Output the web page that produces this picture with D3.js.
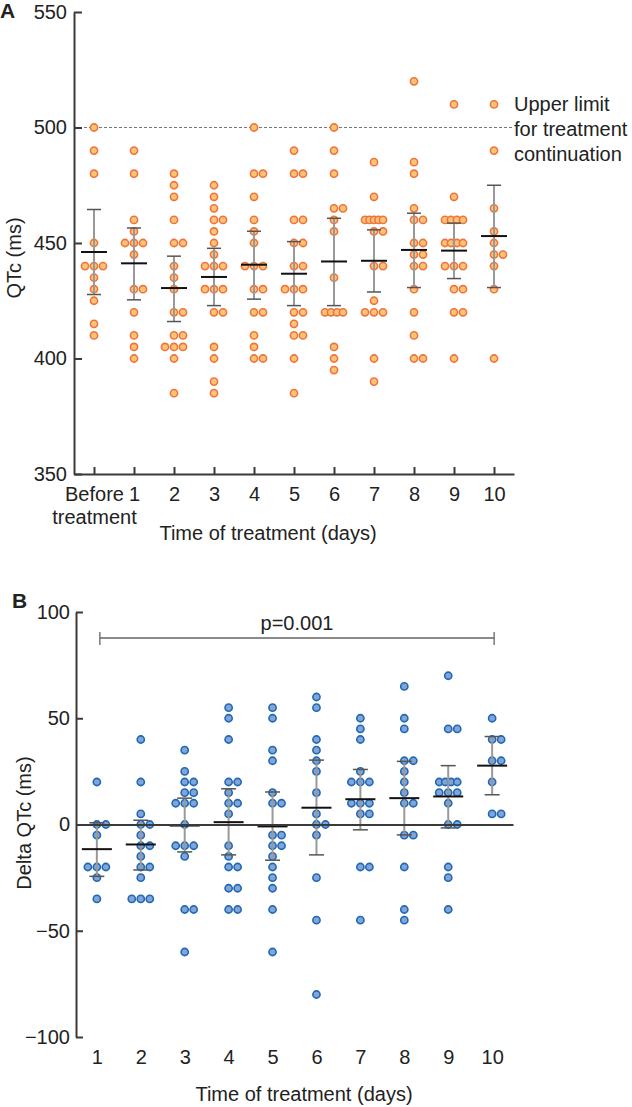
<!DOCTYPE html>
<html lang="en">
<head>
<meta charset="UTF-8">
<title>QTc during treatment</title>
<script src="https://d3js.org/d3.v7.min.js"></script>
<style>
    body { margin: 0; background: #fff; }
    text { font-family: "Liberation Sans", Arial, sans-serif; fill: #222; }
</style>
</head>
<body>
<script>
    // panel A - QTc (ms), dots per time point
    var daysA = ['Before', '1', '2', '3', '4', '5', '6', '7', '8', '9', '10'];
    var qtcDots = [
        [500, 490, 480, 450, 440, 440, 440, 435, 430, 425, 415, 410],
        [490, 480, 460, 455, 450, 450, 450, 445, 430, 430, 420, 410, 405, 400],
        [480, 475, 470, 460, 450, 450, 440, 435, 430, 420, 420, 410, 410, 405, 405, 405, 400, 385],
        [475, 470, 465, 460, 460, 455, 450, 445, 440, 440, 440, 430, 430, 430, 420, 420, 405, 400, 390, 385],
        [500, 480, 480, 470, 460, 455, 450, 440, 440, 440, 430, 430, 420, 420, 410, 405, 400, 400],
        [490, 480, 480, 460, 460, 450, 450, 440, 440, 430, 430, 430, 420, 420, 415, 410, 410, 400, 385],
        [500, 490, 480, 465, 465, 460, 455, 435, 420, 420, 420, 420, 405, 400, 395],
        [485, 470, 460, 460, 460, 460, 460, 455, 455, 440, 440, 425, 420, 420, 420, 400, 390],
        [520, 485, 480, 465, 460, 460, 450, 450, 445, 445, 440, 440, 430, 420, 410, 400, 400],
        [510, 470, 460, 460, 460, 460, 450, 450, 450, 450, 440, 440, 440, 430, 430, 420, 420, 400],
        [510, 490, 465, 455, 450, 445, 445, 440, 430, 400]
    ];
    var qtcMean = [446.1, 441.2, 430.5, 435.3, 440.6, 436.7, 442.0, 442.3, 447.0, 446.7, 453.0];
    var qtcHigh = [464.5, 456.5, 444.3, 447.7, 455.1, 450.6, 460.7, 455.7, 462.9, 458.6, 475.0];
    var qtcLow = [427.7, 425.4, 416.0, 422.9, 425.7, 422.9, 422.9, 428.8, 430.7, 434.6, 430.7];
    var qtcTicks = [350, 400, 450, 500, 550];
    var qtcLimit = 500;
    var limitLabel = ['Upper limit', 'for treatment', 'continuation'];

    // panel B - delta QTc (ms)
    var daysB = ['1', '2', '3', '4', '5', '6', '7', '8', '9', '10'];
    var deltaDots = [
        [20, 0, 0, -5, -20, -20, -20, -25, -35],
        [40, 20, 5, 0, 0, -5, -10, -10, -15, -20, -20, -25, -35, -35, -35],
        [35, 25, 20, 20, 15, 15, 10, 10, 10, 0, -10, -10, -10, -15, -40, -40, -60],
        [55, 50, 40, 20, 20, 15, 10, 10, 5, -10, -15, -20, -20, -30, -30, -40, -40],
        [55, 50, 35, 30, 15, 10, 10, -5, -5, -10, -10, -15, -20, -25, -30, -40, -60],
        [60, 55, 40, 35, 30, 25, 15, 5, 0, 0, -5, -25, -45, -80],
        [50, 45, 40, 25, 20, 20, 20, 10, 10, 10, 5, 5, -20, -20, -45],
        [65, 50, 45, 30, 30, 25, 20, 15, 10, 10, -5, -5, -20, -40, -45],
        [70, 45, 45, 20, 20, 20, 20, 15, 15, 15, 10, 0, 0, -20, -25, -40],
        [50, 40, 40, 30, 30, 20, 5, 5]
    ];
    var deltaMean = [-11.6, -9.4, -0.5, 1.1, -0.9, 7.9, 11.9, 12.4, 13.2, 27.7];
    var deltaHigh = [0.8, 2.0, 12.4, 16.8, 15.3, 30.3, 25.9, 29.7, 27.7, 41.4];
    var deltaLow = [-24.4, -21.4, -12.9, -14.3, -16.8, -14.3, -2.5, -4.9, -1.6, 14.0];
    var deltaTicks = [-100, -50, 0, 50, 100];
    var pText = 'p=0.001';
    var pFrom = '1', pTo = '10';

    var fontSize = 20;
    var svg = d3.select('body').append('svg')
        .attr('width', 632)
        .attr('height', 1107);

    // spread equal values sideways like a column scatter
    function spread(values) {
        var counts = {}, seen = {};
        values.forEach(function (v) { counts[v] = (counts[v] || 0) + 1; });
        return values.map(function (v) {
            var n = counts[v];
            var k = seen[v] || 0;
            seen[v] = k + 1;
            var dx;
            if (n == 1) dx = 0;
            else if (n == 2) dx = k * 9;
            else if (n == 3) dx = (k - 1) * 9;
            else dx = -9 + k * 18 / (n - 1);
            return {v: v, dx: dx};
        });
    }

    function styleAxis(g) {
        g.attr('font-size', fontSize).attr('font-family', '"Liberation Sans", Arial, sans-serif');
        g.selectAll('.domain').attr('stroke', '#3a3a3a').attr('stroke-width', 2);
        g.selectAll('.tick line').attr('stroke', '#3a3a3a').attr('stroke-width', 2);
        g.selectAll('.tick text').attr('fill', '#222');
    }

    function drawColumns(g, x, y, cats, dots, mean, hi, lo, fill, stroke, barW, capW) {
        cats.forEach(function (c, i) {
            var cx = x(c);
            g.append('g').selectAll('circle')
                .data(spread(dots[i]))
                .enter()
                .append('circle')
                .attr('cx', function (d) { return cx + d.dx; })
                .attr('cy', function (d) { return y(d.v); })
                .attr('r', 3.6)
                .attr('fill', fill)
                .attr('stroke', stroke)
                .attr('stroke-width', 1.6);
            g.append('line')
                .attr('x1', cx).attr('x2', cx)
                .attr('y1', y(hi[i])).attr('y2', y(lo[i]))
                .attr('stroke', '#999').attr('stroke-width', 2);
            [hi[i], lo[i]].forEach(function (v) {
                g.append('line')
                    .attr('x1', cx - capW / 2).attr('x2', cx + capW / 2)
                    .attr('y1', y(v)).attr('y2', y(v))
                    .attr('stroke', '#555').attr('stroke-width', 1.5);
            });
            g.append('line')
                .attr('x1', cx - barW / 2).attr('x2', cx + barW / 2)
                .attr('y1', y(mean[i])).attr('y2', y(mean[i]))
                .attr('stroke', '#111').attr('stroke-width', 2);
        });
    }

    // ---------- panel A ----------
    var xA = d3.scalePoint().domain(daysA).range([74, 514]).padding(0.5);
    var yA = d3.scaleLinear().domain([350, 550]).range([474, 12]);
    var gA = svg.append('g');

    gA.append('line')
        .attr('x1', xA.range()[0]).attr('x2', 512)
        .attr('y1', yA(qtcLimit)).attr('y2', yA(qtcLimit))
        .attr('stroke', '#777').attr('stroke-width', 1)
        .attr('stroke-dasharray', '3,2');

    drawColumns(gA, xA, yA, daysA, qtcDots, qtcMean, qtcHigh, qtcLow, '#fcc479', '#f0743a', 26, 14);

    var axAy = gA.append('g')
        .attr('transform', 'translate(' + xA.range()[0] + ',0)')
        .call(d3.axisLeft(yA).tickValues(qtcTicks).tickSize(-8).tickSizeOuter(0).tickPadding(7));
    styleAxis(axAy);

    var axAx = gA.append('g')
        .attr('transform', 'translate(0,' + yA(350) + ')')
        .call(d3.axisBottom(xA).tickSize(-7).tickSizeOuter(0).tickPadding(13));
    styleAxis(axAx);
    axAx.selectAll('.tick text').filter(function (d) { return d == 'Before'; })
        .text(null)
        .call(function (t) {
            t.append('tspan').attr('x', 0).text('Before');
            t.append('tspan').attr('x', 0).attr('dy', '1.15em').text('treatment');
        });

    limitLabel.forEach(function (s, i) {
        gA.append('text')
            .attr('x', 514)
            .attr('y', 111 + i * 25)
            .attr('font-size', fontSize)
            .text(s);
    });

    gA.append('text')
        .attr('x', 268).attr('y', 540)
        .attr('text-anchor', 'middle')
        .attr('font-size', fontSize)
        .text('Time of treatment (days)');
    gA.append('text')
        .attr('transform', 'translate(21,' + 258 + ') rotate(-90)')
        .attr('text-anchor', 'middle')
        .attr('font-size', fontSize)
        .text('QTc (ms)');
    gA.append('text')
        .attr('x', 0).attr('y', 18)
        .attr('font-size', 21).attr('font-weight', 'bold')
        .text('A');

    // ---------- panel B ----------
    var xB = d3.scalePoint().domain(daysB).range([76, 513]).padding(0.475);
    var yB = d3.scaleLinear().domain([-100, 100]).range([1037, 612]);
    var gB = svg.append('g');

    drawColumns(gB, xB, yB, daysB, deltaDots, deltaMean, deltaHigh, deltaLow, '#82a5d6', '#1f68b8', 30, 15);

    // zero line
    var axB0 = gB.append('g')
        .attr('transform', 'translate(0,' + yB(0) + ')')
        .call(d3.axisBottom(xB).tickSize(0).tickSizeOuter(0).tickFormat(''));
    styleAxis(axB0);

    var axBx = gB.append('g')
        .attr('transform', 'translate(0,' + yB(-100) + ')')
        .call(d3.axisBottom(xB).tickSize(0).tickSizeOuter(0).tickPadding(13));
    styleAxis(axBx);
    axBx.select('.domain').remove();

    var axBy = gB.append('g')
        .attr('transform', 'translate(' + xB.range()[0] + ',0)')
        .call(d3.axisLeft(yB).tickValues(deltaTicks).tickSize(-7).tickSizeOuter(0).tickPadding(6)
            .tickFormat(function (d) { return d < 0 ? '\u2212' + Math.abs(d) : d; }));
    styleAxis(axBy);

    // significance bracket
    var bx1 = xB(pFrom) + 3, bx2 = xB(pTo) + 2, by = 638;
    gB.append('path')
        .attr('d', 'M' + bx1 + ',' + (by - 6) + 'V' + (by + 7) + 'M' + bx1 + ',' + by + 'H' + bx2 +
            'M' + bx2 + ',' + (by - 6) + 'V' + (by + 7))
        .attr('fill', 'none').attr('stroke', '#666').attr('stroke-width', 1.3);
    gB.append('text')
        .attr('x', (bx1 + bx2) / 2).attr('y', 630)
        .attr('text-anchor', 'middle')
        .attr('font-size', fontSize)
        .text(pText);

    gB.append('text')
        .attr('x', 304).attr('y', 1101)
        .attr('text-anchor', 'middle')
        .attr('font-size', fontSize)
        .text('Time of treatment (days)');
    gB.append('text')
        .attr('transform', 'translate(31,' + 823 + ') rotate(-90)')
        .attr('text-anchor', 'middle')
        .attr('font-size', fontSize)
        .text('Delta QTc (ms)');
    gB.append('text')
        .attr('x', 12).attr('y', 608)
        .attr('font-size', 21).attr('font-weight', 'bold')
        .text('B');
</script>
</body>
</html>
